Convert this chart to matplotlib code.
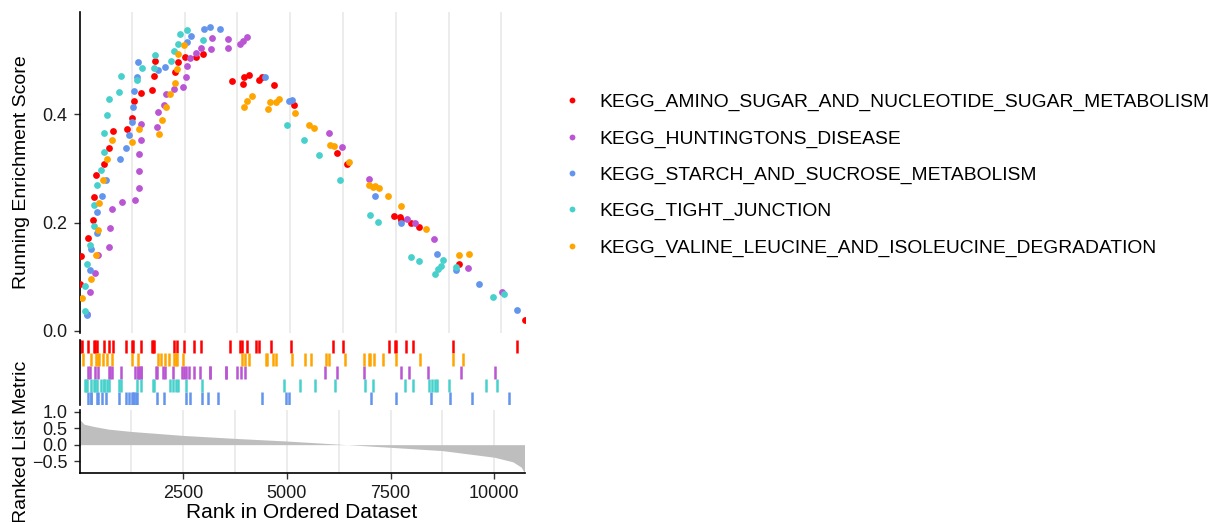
"""
gsea_multi.py
Running enrichment score plot for five KEGG gene sets (gseaplot2 style).
"""
import matplotlib
matplotlib.use('Agg')
import matplotlib.pyplot as plt
from matplotlib.lines import Line2D

plt.rcParams['font.family'] = ['Liberation Sans', 'DejaVu Sans']

N_GENES = 10730

# ranked list metric, read at a few ranks
metric_rank = [1, 30, 110, 350, 700, 1250, 2500, 3750, 5000, 6450, 7500, 8750, 10000, 10450, 10650, 10730]
metric_val = [0.76, 0.73, 0.62, 0.55, 0.47, 0.40, 0.28, 0.19, 0.11, 0.0, -0.08, -0.18, -0.38, -0.52, -0.68, -0.85]

# hit positions and running enrichment score at each hit
amino_x = [20, 50, 215, 340, 365, 411, 600, 720, 800, 1130, 1260, 1300, 1480, 1740, 1770, 1795,
           2270, 2350, 2520, 2765, 2940, 3630, 3880, 3910, 4035, 4256, 4335, 4620, 5100, 6120,
           6350, 7460, 7600, 7630, 7865, 8045, 9000, 10545]
amino_es = [0.086, 0.138, 0.171, 0.204, 0.248, 0.287, 0.309, 0.338, 0.369, 0.373, 0.394, 0.425,
            0.439, 0.445, 0.471, 0.498, 0.479, 0.497, 0.506, 0.506, 0.511, 0.462, 0.456, 0.468,
            0.472, 0.463, 0.469, 0.455, 0.418, 0.328, 0.309, 0.212, 0.210, 0.204, 0.200, 0.192,
            0.123, 0.020]

hunt_x = [198, 253, 371, 458, 711, 743, 774, 1011, 1335, 1414, 1422, 1430, 1477, 1480, 1841, 1865,
          2007, 2070, 2244, 2473, 2528, 2568, 2630, 2765, 2899, 3136, 3140, 3524, 3530, 3805, 3884,
          3987, 5925, 6218, 6867, 7761, 7943, 8402, 9209, 10015]
hunt_es = [0.032, 0.072, 0.106, 0.140, 0.154, 0.190, 0.225, 0.238, 0.241, 0.264, 0.295, 0.326,
           0.352, 0.382, 0.377, 0.404, 0.417, 0.437, 0.446, 0.451, 0.469, 0.489, 0.504, 0.514,
           0.523, 0.520, 0.541, 0.523, 0.539, 0.529, 0.535, 0.543, 0.365, 0.339, 0.281, 0.206,
           0.200, 0.169, 0.116, 0.071]

starch_x = [198, 269, 285, 419, 435, 545, 632, 964, 1114, 1193, 1264, 1288, 1312, 1367, 1390, 1865,
            2038, 2568, 2663, 2963, 3105, 3335, 4407, 4976, 5055, 7017, 7627, 8465, 8932, 9462,
            10364]
starch_es = [0.029, 0.112, 0.152, 0.181, 0.220, 0.249, 0.278, 0.318, 0.337, 0.361, 0.386, 0.414,
             0.443, 0.469, 0.496, 0.482, 0.487, 0.534, 0.545, 0.557, 0.562, 0.558, 0.468, 0.425,
             0.426, 0.249, 0.200, 0.142, 0.113, 0.087, 0.038]

tight_x = [142, 150, 190, 269, 356, 364, 427, 530, 585, 601, 656, 719, 956, 1004, 1384, 1485, 1778,
           1801, 2180, 2244, 2338, 2386, 2560, 2947, 4929, 5316, 5672, 6170, 6890, 7072, 7856,
           8046, 8433, 8489, 8560, 8615, 8916, 9810, 10055]
tight_es = [0.036, 0.083, 0.123, 0.159, 0.193, 0.233, 0.269, 0.297, 0.330, 0.366, 0.398, 0.429,
            0.442, 0.470, 0.464, 0.485, 0.485, 0.509, 0.499, 0.517, 0.530, 0.549, 0.556, 0.538,
            0.381, 0.352, 0.324, 0.279, 0.214, 0.201, 0.137, 0.129, 0.105, 0.115, 0.120, 0.131,
            0.118, 0.062, 0.068]

valine_x = [79, 284, 395, 450, 482, 569, 656, 782, 1264, 1422, 1888, 1975, 2070, 2165, 2275, 2330,
            2354, 2496, 3908, 3987, 4098, 4486, 4525, 4675, 4731, 5118, 5443, 5570, 5950, 6028,
            6392, 6867, 6970, 7010, 7105, 7310, 7627, 8220, 8995, 9240]
valine_es = [0.060, 0.096, 0.141, 0.187, 0.236, 0.278, 0.318, 0.352, 0.349, 0.373, 0.363, 0.390,
             0.413, 0.437, 0.458, 0.483, 0.512, 0.528, 0.414, 0.425, 0.433, 0.410, 0.422, 0.422,
             0.428, 0.402, 0.380, 0.375, 0.344, 0.342, 0.312, 0.270, 0.266, 0.267, 0.263, 0.250,
             0.230, 0.189, 0.140, 0.142]

labels = ['KEGG_AMINO_SUGAR_AND_NUCLEOTIDE_SUGAR_METABOLISM',
          'KEGG_HUNTINGTONS_DISEASE',
          'KEGG_STARCH_AND_SUCROSE_METABOLISM',
          'KEGG_TIGHT_JUNCTION',
          'KEGG_VALINE_LEUCINE_AND_ISOLEUCINE_DEGRADATION']
colors = ['#FF0000', '#BA55D3', '#6495ED', '#48D1CC', '#FFA500']
hits = [amino_x, hunt_x, starch_x, tight_x, valine_x]
scores = [amino_es, hunt_es, starch_es, tight_es, valine_es]
# row of each gene set in the hit panel, counted from the top
rug_row = [0, 2, 4, 3, 1]

W, H = 1212, 522
fig = plt.figure(figsize=(W / 100, H / 100), dpi=100)

def px_axes(x0, y0, x1, y1):
    return fig.add_axes([x0 / W, 1 - y1 / H, (x1 - x0) / W, (y1 - y0) / H])

ax_es = px_axes(79.5, 12, 524.5, 333)
ax_rug = px_axes(79.5, 340, 524.5, 405)
ax_rank = px_axes(79.5, 410, 524.5, 473)

grid_x = [1250 * k for k in range(1, 9)]
grid_kw = dict(color='#EBEBEB', linewidth=1.3, zorder=0)

# 1. running enrichment score (dots at hits)
for xs, es, c in zip(hits, scores, colors):
    ax_es.scatter(xs, es, s=24, color=c, linewidths=0, zorder=3)
for g in grid_x:
    ax_es.axvline(g, **grid_kw)
ax_es.set_xlim(15, 10545)
ax_es.set_ylim(-0.004, 0.589)
ax_es.set_yticks([0.0, 0.2, 0.4])
ax_es.set_yticklabels(['0.0', '0.2', '0.4'])
ax_es.set_xticks([])
ax_es.set_ylabel('Running Enrichment Score', fontsize=14)
ax_es.yaxis.set_label_coords(-0.112, 0.5)
for side in ['top', 'right', 'bottom']:
    ax_es.spines[side].set_visible(False)

# 2. hit positions
for xs, c, r in zip(hits, colors, rug_row):
    y_top = 5 - r
    ax_rug.vlines(xs, y_top - 0.97, y_top - 0.03, color=c, linewidth=1.8)
ax_rug.set_xlim(0, N_GENES)
ax_rug.set_ylim(0, 5)
ax_rug.set_xticks([])
ax_rug.set_yticks([])
for side in ['top', 'right', 'bottom']:
    ax_rug.spines[side].set_visible(False)

# 3. ranked list metric
ax_rank.fill_between(metric_rank, metric_val, 0, color='#BEBEBE', linewidth=0, zorder=1)
for g in grid_x:
    ax_rank.axvline(g, **grid_kw)
ax_rank.set_xlim(0, N_GENES)
ax_rank.set_ylim(-0.858, 1.05)
ax_rank.set_yticks([1.0, 0.5, 0.0, -0.5])
ax_rank.set_yticklabels(['1.0', '0.5', '0.0', '\u22120.5'])
ax_rank.set_xticks([2500, 5000, 7500, 10000])
ax_rank.set_xlabel('Rank in Ordered Dataset', fontsize=15)
ax_rank.xaxis.set_label_coords(0.5, -0.48)
ax_rank.set_ylabel('Ranked List Metric', fontsize=14)
ax_rank.yaxis.set_label_coords(-0.112, 0.5)
for side in ['top', 'right']:
    ax_rank.spines[side].set_visible(False)

for ax in [ax_es, ax_rug, ax_rank]:
    for side in ['left', 'bottom']:
        ax.spines[side].set_linewidth(1.2)
    ax.tick_params(labelsize=13, length=4.5, width=1.0, pad=4, colors='#333333', labelcolor='#1a1a1a')
    ax.set_facecolor('none')

handles = [Line2D([], [], marker='o', linestyle='', color=c, markersize=4.2, markeredgewidth=0)
           for c in colors]
fig.legend(handles, labels, loc='upper left', bbox_to_anchor=(555 / W, 1 - 86 / H),
           frameon=False, fontsize=13.85, labelspacing=0.97, handlelength=1.0,
           handletextpad=0.9, borderaxespad=0)

fig.savefig('out.png', dpi=100)
plt.close(fig)
